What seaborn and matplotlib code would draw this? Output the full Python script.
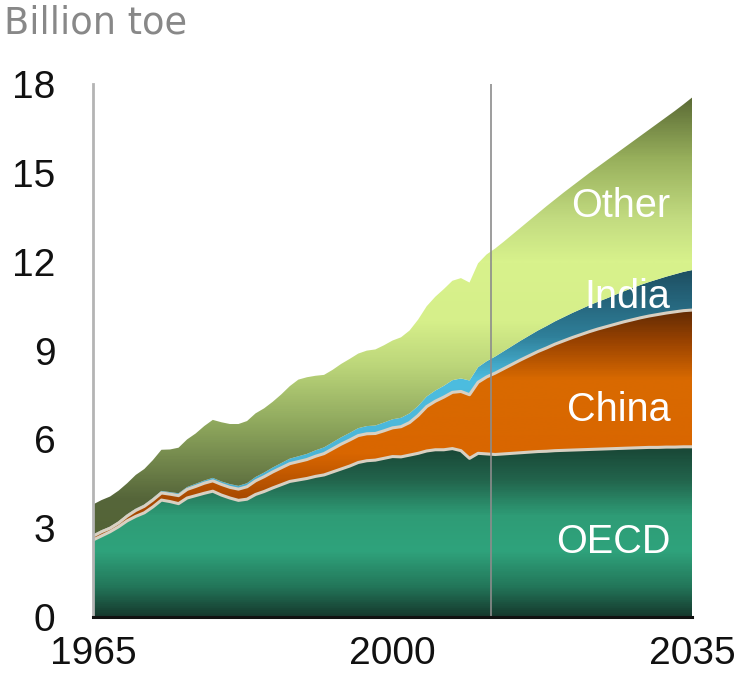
import matplotlib
matplotlib.use("Agg")
import matplotlib.pyplot as plt
from matplotlib.colors import LinearSegmentedColormap
import numpy as np
import pandas as pd
import seaborn as sns

years = list(range(1965, 2036))

oecd = [2.60, 2.74, 2.88, 3.05, 3.25, 3.40, 3.52, 3.72, 3.95, 3.90,
        3.83, 4.02, 4.10, 4.18, 4.25, 4.12, 4.02, 3.94, 3.98, 4.14,
        4.24, 4.36, 4.47, 4.58, 4.63, 4.68, 4.75, 4.80, 4.90, 5.00,
        5.10, 5.22, 5.28, 5.30, 5.36, 5.42, 5.41, 5.47, 5.53, 5.61,
        5.65, 5.65, 5.69, 5.62, 5.36, 5.53, 5.51, 5.49, 5.51, 5.53,
        5.55, 5.57, 5.59, 5.60, 5.62, 5.63, 5.64, 5.65, 5.66, 5.67,
        5.68, 5.69, 5.70, 5.71, 5.72, 5.73, 5.73, 5.74, 5.74, 5.75,
        5.75]

china = [0.13, 0.14, 0.12, 0.13, 0.16, 0.20, 0.22, 0.23, 0.24, 0.25,
         0.27, 0.29, 0.31, 0.34, 0.35, 0.36, 0.36, 0.38, 0.42, 0.46,
         0.50, 0.54, 0.57, 0.60, 0.62, 0.64, 0.68, 0.72, 0.78, 0.84,
         0.88, 0.91, 0.91, 0.90, 0.93, 0.97, 1.02, 1.10, 1.28, 1.50,
         1.64, 1.78, 1.90, 2.00, 2.15, 2.40, 2.60, 2.75, 2.88, 3.01,
         3.14, 3.26, 3.38, 3.49, 3.60, 3.70, 3.80, 3.89, 3.98, 4.06,
         4.13, 4.20, 4.27, 4.33, 4.39, 4.44, 4.49, 4.53, 4.57, 4.60,
         4.62]

india = [0.05, 0.05, 0.05, 0.05, 0.06, 0.06, 0.06, 0.07, 0.07, 0.07,
         0.08, 0.08, 0.09, 0.09, 0.10, 0.10, 0.11, 0.11, 0.12, 0.13,
         0.14, 0.15, 0.16, 0.17, 0.18, 0.19, 0.20, 0.21, 0.22, 0.23,
         0.24, 0.25, 0.26, 0.27, 0.28, 0.29, 0.30, 0.31, 0.32, 0.34,
         0.36, 0.38, 0.41, 0.44, 0.48, 0.51, 0.53, 0.56, 0.59, 0.62,
         0.65, 0.68, 0.71, 0.74, 0.77, 0.80, 0.83, 0.86, 0.89, 0.92,
         0.95, 0.99, 1.03, 1.07, 1.11, 1.15, 1.19, 1.23, 1.27, 1.31,
         1.35]

world = [3.80, 3.95, 4.07, 4.27, 4.52, 4.80, 5.00, 5.30, 5.65, 5.66,
         5.72, 6.00, 6.20, 6.45, 6.66, 6.58, 6.52, 6.52, 6.62, 6.88,
         7.05, 7.27, 7.52, 7.80, 8.02, 8.10, 8.15, 8.18, 8.35, 8.55,
         8.72, 8.90, 9.00, 9.04, 9.18, 9.34, 9.45, 9.68, 10.05, 10.50,
         10.82, 11.08, 11.36, 11.45, 11.30, 11.95, 12.25, 12.45, 12.68, 12.92,
         13.16, 13.40, 13.64, 13.88, 14.11, 14.34, 14.56, 14.78, 15.00, 15.21,
         15.42, 15.63, 15.84, 16.05, 16.26, 16.47, 16.68, 16.89, 17.10, 17.32,
         17.55]

regions = ["OECD", "China", "India", "Other"]
y_ticks = [0, 3, 6, 9, 12, 15, 18]
x_ticks = [1965, 2000, 2035]
outlook_start = 2011.5

df = pd.DataFrame({"year": years, "OECD": oecd, "China": china, "India": india})
df["Other"] = np.array(world) - df[["OECD", "China", "India"]].sum(axis=1)
tops = df[regions].cumsum(axis=1)

# vertical gradient for each band, stops given as (value, colour)
YMAX = 18.0
gradients = {
    "OECD": [(0, "#163a2e"), (1.0, "#23775a"), (2.2, "#2fa37c"), (3.4, "#2e9c76"),
             (4.6, "#22644c"), (5.8, "#184434"), (18, "#184434")],
    "China": [(0, "#a04600"), (4.0, "#a84a00"), (5.5, "#d96600"), (8.0, "#d96a00"),
              (9.3, "#9a4300"), (10.5, "#5a2806"), (18, "#5a2806")],
    "India": [(0, "#3a86a0"), (5.0, "#4bb4d6"), (8.0, "#4dbde0"), (9.5, "#2f7f99"),
              (11.8, "#1d4d60"), (18, "#1d4d60")],
    "Other": [(0, "#4c5c2e"), (4.0, "#56663a"), (6.5, "#8ea75d"), (8.5, "#bcd67a"),
              (10.0, "#d6ef8a"), (12.0, "#d8f28c"), (13.5, "#c2db80"), (15.5, "#98b05c"),
              (17.6, "#5a6a35"), (18, "#5a6a35")],
}

sns.set_style("white")
plt.rcParams["font.family"] = ["Liberation Sans", "DejaVu Sans"]

fig = plt.figure(figsize=(7.35, 6.74), dpi=100)
ax = fig.add_axes([0.1265, 0.0846, 0.815, 0.7904])

grad = np.linspace(0, YMAX, 600).reshape(-1, 1)
lower = np.zeros(len(years))
for r in regions:
    upper = tops[r].values
    poly = ax.fill_between(years, lower, upper, color="none", lw=0)
    stops = gradients[r]
    cmap = LinearSegmentedColormap.from_list(r, [(v / YMAX, c) for v, c in stops])
    im = ax.imshow(grad, extent=[1965, 2035, 0, YMAX], origin="lower",
                   aspect="auto", cmap=cmap, vmin=0, vmax=YMAX, interpolation="bilinear")
    im.set_clip_path(poly.get_paths()[0], transform=ax.transData)
    lower = upper

# light borders between OECD / China / India
for r in ["OECD", "China"]:
    sns.lineplot(x=df["year"], y=tops[r], ax=ax, color="#d8d0c2", lw=2.2)

ax.axvline(outlook_start, color="#8c8c8c", lw=1.2)

ax.set_xlim(1965, 2035)
ax.set_ylim(0, 18)
ax.set_xticks(x_ticks)
ax.set_yticks(y_ticks)
ax.set_xlabel("")
ax.set_ylabel("")
ax.tick_params(axis="y", direction="in", length=7, width=1.5, color="#b4b4b4",
               labelsize=28, pad=27, labelcolor="#111111")
ax.tick_params(axis="x", length=0, labelsize=28, pad=14, labelcolor="#111111")
for s in ["top", "right"]:
    ax.spines[s].set_visible(False)
ax.spines["left"].set_color("#b4b4b4")
ax.spines["left"].set_linewidth(2)
ax.spines["bottom"].set_color("#111111")
ax.spines["bottom"].set_linewidth(2.2)

label_pos = {"Other": 13.9, "India": 10.8, "China": 7.0, "OECD": 2.55}
for r in regions:
    ax.text(2032.5, label_pos[r], r, color="white", fontsize=28.5, ha="right",
            va="center")

fig.text(0.006, 0.993, "Billion toe", color="#888888", fontsize=26.5, ha="left",
         va="top", family="DejaVu Sans")

fig.savefig("out.png", dpi=100)
